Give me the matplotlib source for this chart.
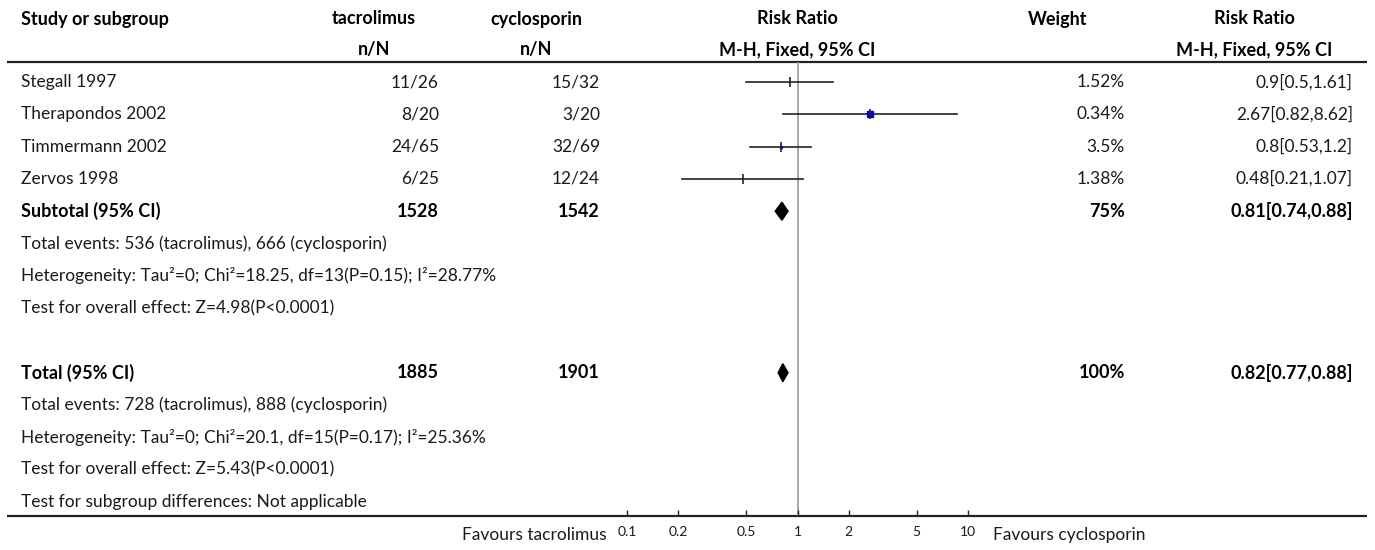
import numpy as np
import matplotlib
matplotlib.use('Agg')
from matplotlib import pyplot as plt

# data
studies = ["Stegall 1997", "Therapondos 2002", "Timmermann 2002", "Zervos 1998"]
tac_events = [11, 8, 24, 6]
tac_total = [26, 20, 65, 25]
cyc_events = [15, 3, 32, 12]
cyc_total = [32, 20, 69, 24]
rr = [0.9, 2.67, 0.8, 0.48]
rr_lo = [0.5, 0.82, 0.53, 0.21]
rr_hi = [1.61, 8.62, 1.2, 1.07]
weights = [1.52, 0.34, 3.5, 1.38]

sub_n = [1528, 1542]
sub_w = 75
sub_rr = [0.81, 0.74, 0.88]
sub_lines = ["Total events: 536 (tacrolimus), 666 (cyclosporin)",
             "Heterogeneity: Tau\u00b2=0; Chi\u00b2=18.25, df=13(P=0.15); I\u00b2=28.77%",
             "Test for overall effect: Z=4.98(P<0.0001)"]
tot_n = [1885, 1901]
tot_w = 100
tot_rr = [0.82, 0.77, 0.88]
tot_lines = ["Total events: 728 (tacrolimus), 888 (cyclosporin)",
             "Heterogeneity: Tau\u00b2=0; Chi\u00b2=20.1, df=15(P=0.17); I\u00b2=25.36%",
             "Test for overall effect: Z=5.43(P<0.0001)",
             "Test for subgroup differences: Not applicable"]
xticks = [0.1, 0.2, 0.5, 1, 2, 5, 10]
xtick_labels = ["0.1", "0.2", "0.5", "1", "2", "5", "10"]

# layout (pixels)
W, H = 1375, 550
ROW0, ROWH = 82, 32.3
TOP_LINE, AX_LINE = 62, 516
X_STUDY = 21
X_TAC_H, X_TAC = 374, 439
X_CYC_H, X_CYC = 536, 600
X_RR_H = 797
X_W_H, X_W = 1058, 1125
X_RR2_H, X_RR2 = 1254, 1353
AX_L, AX_R = 627, 968
box_px = [0, 6, 2, 0]   # blue box size per study

FS = 12.5
FSB = 13
TXT = '#1a1a1a'
plt.rcParams['font.family'] = ['Lato', 'DejaVu Sans']

def ypx(i):
    return ROW0 + ROWH * i

def fmt_rr(v):
    return "%g[%g,%g]" % (v[0], v[1], v[2])

fig = plt.figure(figsize=(W / 100, H / 100), dpi=100)
bg = fig.add_axes([0, 0, 1, 1])
bg.set_xlim(0, W)
bg.set_ylim(H, 0)
bg.axis('off')

# headers
hdr = dict(fontsize=FSB, fontweight='bold', color='black', va='center')
bg.text(X_STUDY, 19, "Study or subgroup", ha='left', **hdr)
bg.text(X_TAC_H, 19, "tacrolimus", ha='center', **hdr)
bg.text(X_CYC_H, 19, "cyclosporin", ha='center', **hdr)
bg.text(X_RR_H, 19, "Risk Ratio", ha='center', **hdr)
bg.text(X_W_H, 19, "Weight", ha='center', **hdr)
bg.text(X_RR2_H, 19, "Risk Ratio", ha='center', **hdr)
bg.text(X_TAC_H, 50, "n/N", ha='center', **hdr)
bg.text(X_CYC_H, 50, "n/N", ha='center', **hdr)
bg.text(X_RR_H, 50, "M-H, Fixed, 95% CI", ha='center', **hdr)
bg.text(X_RR2_H, 50, "M-H, Fixed, 95% CI", ha='center', **hdr)

bg.plot([7, 1367], [TOP_LINE, TOP_LINE], color='#222', lw=1.6, solid_capstyle='butt')
bg.plot([7, 1367], [AX_LINE, AX_LINE], color='#222', lw=1.6, solid_capstyle='butt')

norm = dict(fontsize=FS, color=TXT, va='center')
bold = dict(fontsize=FSB, color='black', fontweight='bold', va='center')

for i, s in enumerate(studies):
    y = ypx(i)
    bg.text(X_STUDY, y, s, ha='left', **norm)
    bg.text(X_TAC, y, "%d/%d" % (tac_events[i], tac_total[i]), ha='right', **norm)
    bg.text(X_CYC, y, "%d/%d" % (cyc_events[i], cyc_total[i]), ha='right', **norm)
    bg.text(X_W, y, "%g%%" % weights[i], ha='right', **norm)
    bg.text(X_RR2, y, fmt_rr([rr[i], rr_lo[i], rr_hi[i]]), ha='right', **norm)

r_sub = len(studies)
bg.text(X_STUDY, ypx(r_sub), "Subtotal (95% CI)", ha='left', **bold)
bg.text(X_TAC, ypx(r_sub), str(sub_n[0]), ha='right', **bold)
bg.text(X_CYC, ypx(r_sub), str(sub_n[1]), ha='right', **bold)
bg.text(X_W, ypx(r_sub), "%d%%" % sub_w, ha='right', **bold)
bg.text(X_RR2, ypx(r_sub), fmt_rr(sub_rr), ha='right', **bold)
for k, t in enumerate(sub_lines):
    bg.text(X_STUDY, ypx(r_sub + 1 + k), t, ha='left', **norm)

r_tot = r_sub + len(sub_lines) + 2
bg.text(X_STUDY, ypx(r_tot), "Total (95% CI)", ha='left', **bold)
bg.text(X_TAC, ypx(r_tot), str(tot_n[0]), ha='right', **bold)
bg.text(X_CYC, ypx(r_tot), str(tot_n[1]), ha='right', **bold)
bg.text(X_W, ypx(r_tot), "%d%%" % tot_w, ha='right', **bold)
bg.text(X_RR2, ypx(r_tot), fmt_rr(tot_rr), ha='right', **bold)
for k, t in enumerate(tot_lines):
    bg.text(X_STUDY, ypx(r_tot + 1 + k), t, ha='left', **norm)

bg.text(607, 535, "Favours tacrolimus", ha='right', **norm)
bg.text(993, 535, "Favours cyclosporin", ha='left', **norm)

# forest panel
ax = fig.add_axes([AX_L / W, 1 - AX_LINE / H, (AX_R - AX_L) / W, (AX_LINE - TOP_LINE) / H])
ax.set_xscale('log')
ax.set_xlim(0.1, 10)
ax.set_ylim((AX_LINE - ROW0) / ROWH, (TOP_LINE - ROW0) / ROWH)
for sp in ['top', 'left', 'right', 'bottom']:
    ax.spines[sp].set_visible(False)
ax.set_facecolor('none')
ax.set_yticks([])
ax.set_xticks(xticks)
ax.set_xticklabels(xtick_labels)
ax.minorticks_off()
ax.tick_params(axis='x', direction='in', length=4, width=1, color='#222',
               labelsize=10, labelcolor=TXT, pad=7)
ax.axvline(1, color='#999999', lw=1.2, zorder=1)

for i in range(len(studies)):
    ax.plot([rr_lo[i], rr_hi[i]], [i, i], color='#222', lw=1.2, zorder=2)
    if box_px[i] > 0:
        ax.plot(rr[i], i, marker='s', ms=box_px[i] * 0.72, color='#0000cc',
                mec='#0000cc', zorder=3)
    ax.plot(rr[i], i, marker='|', ms=7, mew=1.2, color='#222', zorder=4)

for r, v in [(r_sub, sub_rr), (r_tot, tot_rr)]:
    ax.fill([v[1], v[0], v[2], v[0]], [r, r - 0.28, r, r + 0.28],
            color='black', zorder=3)

fig.savefig('out.png', dpi=100)
